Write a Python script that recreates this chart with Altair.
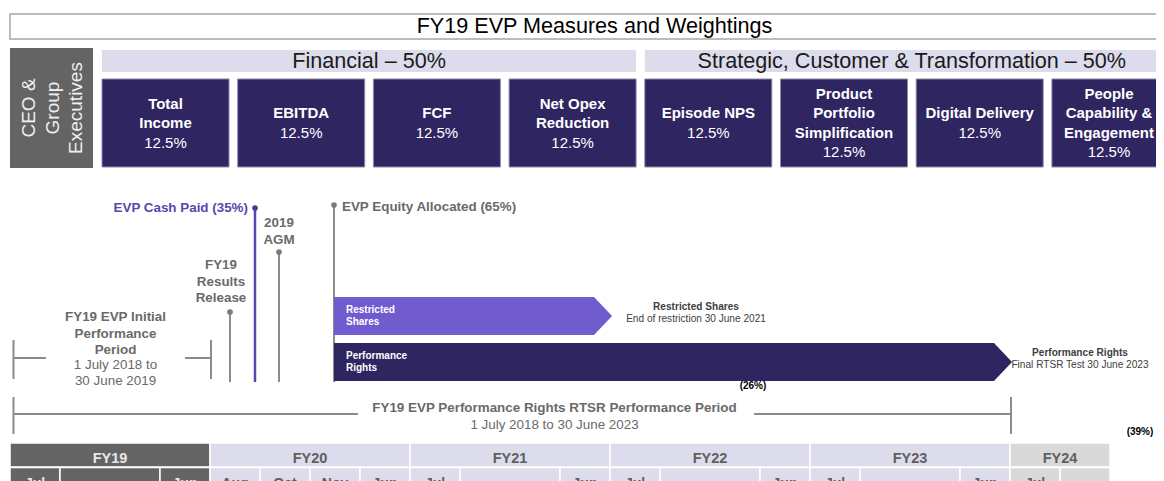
import altair as alt
import pandas as pd

# ------------------------------------------------------------------ data
TITLE = "FY19 EVP Measures and Weightings"
SIDE_LABEL = "CEO &\nGroup\nExecutives"

GROUPS = ["Financial – 50%", "Strategic, Customer & Transformation – 50%"]
GROUP_SIZES = [4, 4]

MEASURES = ["Total\nIncome", "EBITDA", "FCF", "Net Opex\nReduction",
            "Episode NPS", "Product\nPortfolio\nSimplification",
            "Digital Delivery", "People\nCapability &\nEngagement"]
WEIGHTS = [12.5, 12.5, 12.5, 12.5, 12.5, 12.5, 12.5, 12.5]

FISCAL_YEARS = ["FY19", "FY20", "FY21", "FY22", "FY23", "FY24"]
FY_LENGTH = [1.0, 1.0, 1.0, 1.0, 1.0, 0.5]
MONTH_LABELS = [["Jul", "", "Jun"], ["Aug", "Oct", "Nov", "Jun"],
                ["Jul", "", "Jun"], ["Jul", "", "Jun"], ["Jul", "", "Jun"],
                ["Jul", ""]]
MONTH_SPANS = [[0.25, 0.5, 0.25], [0.25, 0.25, 0.25, 0.25],
               [0.25, 0.5, 0.25], [0.25, 0.5, 0.25], [0.25, 0.5, 0.25],
               [0.25, 0.25]]

EVENTS = ["FY19\nResults\nRelease", "EVP Cash Paid (35%)", "2019\nAGM",
          "EVP Equity Allocated (65%)"]
EVENT_TIME = [1.10, 1.225, 1.345, 1.62]   # fiscal-year units from 1 July 2018

VEHICLES = ["Restricted\nShares", "Performance\nRights"]
VEHICLE_SHARE = ["(26%)", "(39%)"]
VEHICLE_END = [3.0, 5.0]
VEHICLE_HEAD = ["Restricted Shares", "Performance Rights"]
VEHICLE_NOTE = ["End of restriction 30 June 2021",
                "Final RTSR Test 30 June 2023"]

PERIOD_HEAD = ["FY19 EVP Initial\nPerformance\nPeriod",
               "FY19 EVP Performance Rights RTSR Performance Period"]
PERIOD_DATES = ["1 July 2018 to\n30 June 2019", "1 July 2018 to 30 June 2023"]
PERIOD_START = [0.0, 0.0]
PERIOD_END = [1.0, 5.0]

# ------------------------------------------------------------------ style / layout
FONT = "Liberation Sans"
NAVY = "#2e2561"
PURPLE = "#705bcf"
LINE_PURPLE = "#5a45b0"
LAV = "#dcdcec"
DGRAY = "#646464"
LGRAY = "#d9d9d9"
TGRAY = "#5f5f5f"
RULE = "#8c8c8c"

W, H = 1148, 481
XS = alt.Scale(domain=[8, 8 + W], nice=False, zero=False)
YS = alt.Scale(domain=[8, 8 + H], nice=False, zero=False, reverse=True)
TEXT_XMAX = 1109   # keep box captions inside the visible page


def fx(u):
    return 10 + 200 * u


rects, rules, dots, arrows = [], [], [], []
T = {k: [] for k in ["title", "side", "group", "mname", "mweight", "ev_c",
                     "ev_r", "ev_l", "dates", "inner", "nhead", "note",
                     "share", "fy", "month"]}

# title box
rects.append(dict(x=10, x2=1180, y=14, y2=39, fill="white", stroke="#a6a6a6", sw=1.5))
T["title"].append(dict(x=594.5, y=27, t=TITLE, c="#000000"))

# side box
rects.append(dict(x=10, x2=93, y=48, y2=168, fill=DGRAY, stroke=DGRAY, sw=0))
T["side"].append(dict(x=29, y=108, t=SIDE_LABEL, c="#f0f0f0"))

# measure boxes
B0, BSTEP, BW, BT, BB, LH = 102, 135.7, 127, 79, 167, 19.5
for i, (m, w) in enumerate(zip(MEASURES, WEIGHTS)):
    x0 = B0 + BSTEP * i
    rects.append(dict(x=x0, x2=x0 + BW, y=BT, y2=BB, fill=NAVY, stroke="#8d8aab", sw=1))
    n = m.count("\n") + 1
    c = 123
    tx = min(x0 + BW / 2, TEXT_XMAX)
    T["mname"].append(dict(x=tx, y=c - n * LH / 2, t=m, c="#ffffff"))
    T["mweight"].append(dict(x=tx, y=c + n * LH / 2, t=f"{w}%", c="#ffffff"))

start = 0
for g, size in zip(GROUPS, GROUP_SIZES):
    xa = B0 + BSTEP * start
    xb = B0 + BSTEP * (start + size - 1) + BW
    rects.append(dict(x=xa, x2=xb, y=50, y2=72, fill=LAV, stroke=LAV, sw=0))
    T["group"].append(dict(x=(xa + xb) / 2, y=61.5, t=g, c="#1a1a1a"))
    start += size

# fiscal table
cum = 0.0
for k, (fy, L) in enumerate(zip(FISCAL_YEARS, FY_LENGTH)):
    fill = DGRAY if k == 0 else (LGRAY if k == len(FISCAL_YEARS) - 1 else LAV)
    tc = "#e8e8e8" if k == 0 else TGRAY
    rects.append(dict(x=fx(cum), x2=fx(cum + L), y=443, y2=467, fill=fill, stroke="#ffffff", sw=1.5))
    T["fy"].append(dict(x=fx(cum + L / 2), y=459, t=fy, c=tc))
    sub = cum
    for lab, span in zip(MONTH_LABELS[k], MONTH_SPANS[k]):
        rects.append(dict(x=fx(sub), x2=fx(sub + span), y=467.5, y2=500, fill=fill, stroke="#ffffff", sw=1.5))
        if lab:
            T["month"].append(dict(x=fx(sub + span / 2), y=484, t=lab, c=tc))
        sub += span
    cum += L

# events
ev_layout = [  # dot y, label kind, label dx, first-line y
    (312, "ev_c", -9, 265),
    (208, "ev_r", -7, 208),
    (252, "ev_c", 0, 223),
    (205, "ev_l", 8, 207),
]
for name, t, (dy, kind, ldx, ly) in zip(EVENTS, EVENT_TIME, ev_layout):
    x = fx(t)
    purple = "Cash" in name
    col = LINE_PURPLE if purple else RULE
    rules.append(dict(x=x, x2=x, y=dy, y2=382, c=col, w=2.5 if purple else 2))
    dots.append(dict(x=x, y=dy, c="#4b3a9c" if purple else "#7a7a7a"))
    T[kind].append(dict(x=x + ldx, y=ly, t=name, c="#5b46ad" if purple else "#6a6a6a"))

# performance periods (brackets)
per_layout = [  # tick top, tick bottom, bar y, label x, gap left, gap right, head y, dates y
    (340, 379, 358, 115.5, 46, 185, 317, 365),
    (397, 434, 414, 554.5, 358, 754, 408, 425),
]
for h, d, s, e, (tt, tb, by, lx, gl, gr, hy, dy) in zip(PERIOD_HEAD, PERIOD_DATES, PERIOD_START, PERIOD_END, per_layout):
    xl, xr = fx(s) + 3.5, fx(e) + 1
    rules += [dict(x=xl, x2=xl, y=tt, y2=tb, c=RULE, w=2),
              dict(x=xr, x2=xr, y=tt, y2=tb, c=RULE, w=2),
              dict(x=xl, x2=gl, y=by, y2=by, c=RULE, w=2),
              dict(x=gr, x2=xr, y=by, y2=by, c=RULE, w=2)]
    T["ev_c"].append(dict(x=lx, y=hy, t=h, c="#6a6a6a"))
    T["dates"].append(dict(x=lx, y=dy, t=d, c="#6a6a6a"))

# vesting arrows
veh_layout = [(297, 335, PURPLE, 696, (753, 386)), (343, 381, NAVY, 1080, (1140, 432))]
x_start = fx(EVENT_TIME[3])
for v, share, end, head, note, (top, bot, col, nx, sp) in zip(
        VEHICLES, VEHICLE_SHARE, VEHICLE_END, VEHICLE_HEAD, VEHICLE_NOTE, veh_layout):
    tip = fx(end) + 2
    mid = (top + bot) / 2
    arrows += [dict(n=v, x=x_start, y=top, y2=bot, c=col),
               dict(n=v, x=tip - 18, y=top, y2=bot, c=col),
               dict(n=v, x=tip, y=mid, y2=mid, c=col)]
    T["inner"].append(dict(x=x_start + 12, y=mid - 6, t=v, c="#ffffff"))
    T["nhead"].append(dict(x=nx, y=mid - 9, t=head, c="#404040"))
    T["note"].append(dict(x=nx, y=mid + 3, t=note, c="#404040"))
    T["share"].append(dict(x=sp[0], y=sp[1], t=share, c="#000000"))

# ------------------------------------------------------------------ chart
def enc_xy(x2=False, y2=False):
    e = dict(x=alt.X("x:Q", scale=XS, axis=None), y=alt.Y("y:Q", scale=YS, axis=None))
    if x2:
        e["x2"] = alt.X2("x2:Q")
    if y2:
        e["y2"] = alt.Y2("y2:Q")
    return e


rect_layer = alt.Chart(pd.DataFrame(rects)).mark_rect().encode(
    **enc_xy(True, True),
    fill=alt.Fill("fill:N", scale=None),
    stroke=alt.Stroke("stroke:N", scale=None),
    strokeWidth=alt.StrokeWidth("sw:Q", scale=None),
)
rule_layer = alt.Chart(pd.DataFrame(rules)).mark_rule().encode(
    **enc_xy(True, True),
    color=alt.Color("c:N", scale=None),
    strokeWidth=alt.StrokeWidth("w:Q", scale=None),
)
arrow_layer = alt.Chart(pd.DataFrame(arrows)).mark_area(orient="vertical", interpolate="linear", opacity=1).encode(
    **enc_xy(False, True),
    color=alt.Color("c:N", scale=None),
    detail="n:N",
)
dot_layer = alt.Chart(pd.DataFrame(dots)).mark_circle(size=32, opacity=1).encode(
    **enc_xy(), color=alt.Color("c:N", scale=None))


def text_layer(rows, size, weight="normal", align="center", lh=None, angle=None):
    kw = dict(font=FONT, fontSize=size, fontWeight=weight, align=align,
              baseline="middle", lineBreak="\n")
    if lh:
        kw["lineHeight"] = lh
    if angle is not None:
        kw["angle"] = angle
    return alt.Chart(pd.DataFrame(rows)).mark_text(**kw).encode(
        **enc_xy(), text=alt.Text("t:N"), color=alt.Color("c:N", scale=None))


texts = [
    text_layer(T["title"], 21.6),
    text_layer(T["side"], 19, lh=23.5, angle=270),
    text_layer(T["group"], 21.6),
    text_layer(T["mname"], 15, "bold", lh=LH),
    text_layer(T["mweight"], 15),
    text_layer(T["ev_c"], 13.4, "bold", lh=16.5),
    text_layer(T["ev_r"], 13.4, "bold", align="right"),
    text_layer(T["ev_l"], 13.4, "bold", align="left"),
    text_layer(T["dates"], 13.4, lh=16),
    text_layer(T["inner"], 10, "bold", align="left", lh=12),
    text_layer(T["nhead"], 10.1, "bold"),
    text_layer(T["note"], 10.1),
    text_layer(T["share"], 10, "bold"),
    text_layer(T["fy"], 14.5, "bold"),
    text_layer(T["month"], 14, "bold"),
]

chart = alt.layer(rect_layer, rule_layer, arrow_layer, dot_layer, *texts).properties(
    width=W, height=H, padding=0,
    autosize=alt.AutoSizeParams(type="none"), background="white",
).configure_view(stroke=None)

chart.save("out.html", embed_options={"renderer": "svg", "actions": False})
